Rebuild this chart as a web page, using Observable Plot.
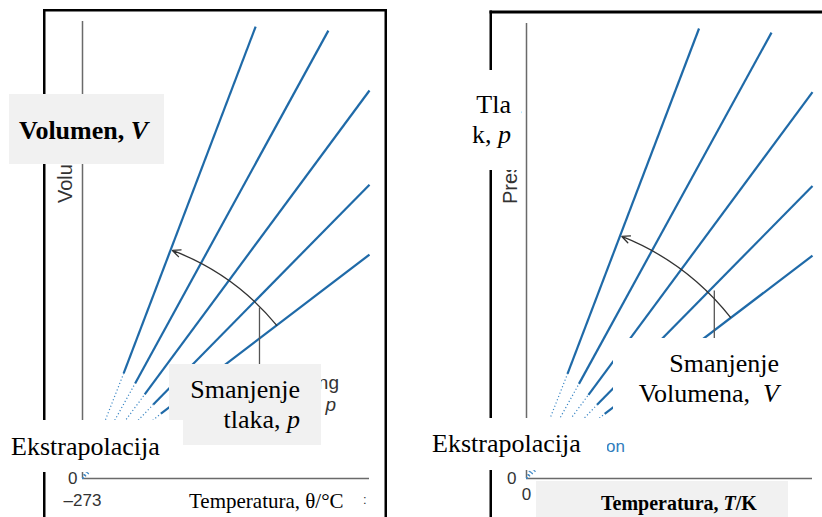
<!DOCTYPE html>
<html>
<head>
<meta charset="utf-8">
<script src="https://cdn.jsdelivr.net/npm/d3@7"></script>
<script src="https://cdn.jsdelivr.net/npm/@observablehq/plot@0.6"></script>
<style>
  html, body { margin: 0; padding: 0; background: #fff; }
  #root { position: relative; width: 822px; height: 517px; overflow: hidden; background: #fff; }
  #left, #right { position: absolute; top: 0; width: 411px; height: 517px; }
  #left { left: 0; }
  #right { left: 411px; }
  #overlay { position: absolute; left: 0; top: 0; }
</style>
</head>
<body>
<div id="root">
  <div id="left"></div>
  <div id="right"></div>
  <svg id="overlay" width="822" height="517">
    <!-- panel frames -->
    <g fill="#000">
      <rect x="43" y="9" width="2.5" height="508"></rect>
      <rect x="43" y="9" width="344" height="2.5"></rect>
      <rect x="384.5" y="9" width="2.5" height="508"></rect>
      <rect x="489.5" y="10.5" width="2.5" height="507"></rect>
      <rect x="489.5" y="10.5" width="333" height="3"></rect>
    </g>
    <!-- remnants of the original labels, partly covered -->
    <g font-family="'Liberation Sans', Arial, sans-serif" font-size="19" fill="#333">
      <text transform="translate(72,203) rotate(-90)" font-size="20">Volume, <tspan font-style="italic">V</tspan></text>
      <text transform="translate(517,204) rotate(-90)" font-size="20">Pressure, <tspan font-style="italic">p</tspan></text>
      <text x="339" y="389" text-anchor="end">Decreasing</text>
      <text x="336" y="411" text-anchor="end">pressure, <tspan font-style="italic">p</tspan></text>
      <text x="363" y="504" font-size="13">:</text>
      <text x="625" y="452" text-anchor="end" font-size="17" fill="#2f7dbd">Extrapolation</text>
    </g>
    <!-- translated label boxes -->
    <g font-family="'Liberation Serif', 'Times New Roman', serif" fill="#000">
      <rect x="9" y="94" width="155" height="70" fill="#f1f1f1"></rect>
      <text x="19" y="139" font-size="26" font-weight="bold">Volumen, <tspan font-style="italic">V</tspan></text>

      <rect x="169" y="364" width="152" height="81" fill="#f1f1f1"></rect>
      <text x="300" y="398" font-size="26" text-anchor="end">Smanjenje</text>
      <text x="300" y="428" font-size="26" text-anchor="end">tlaka, <tspan font-style="italic">p</tspan></text>

      <rect x="0" y="420" width="183" height="52" fill="#fff"></rect>
      <text x="11" y="455" font-size="26">Ekstrapolacija</text>

      <rect x="180" y="486" width="183" height="31" fill="#fff"></rect>
      <text x="189" y="508" font-size="21">Temperatura, θ/°C</text>

      <rect x="455" y="70" width="66" height="100" fill="#fff"></rect>
      <text x="511" y="113" font-size="26" text-anchor="end">Tla</text>
      <text x="511" y="143" font-size="26" text-anchor="end">k, <tspan font-style="italic">p</tspan></text>

      <rect x="613" y="338" width="209" height="80" fill="#fff"></rect>
      <text x="779" y="372" font-size="26" text-anchor="end">Smanjenje</text>
      <text x="779" y="402" font-size="26" text-anchor="end" xml:space="preserve">Volumena,  <tspan font-style="italic">V</tspan></text>

      <rect x="415" y="418" width="192" height="52" fill="#fff"></rect>
      <text x="432" y="452" font-size="26">Ekstrapolacija</text>

      <rect x="536" y="481" width="252" height="36" fill="#f1f1f1"></rect>
      <text x="601" y="510" font-size="20" font-weight="bold">Temperatura, <tspan font-style="italic">T</tspan>/K</text>
    </g>
  </svg>
</div>
<script>
// ---- data ----
// five straight lines through absolute zero (one per pressure / volume)
const seriesIds = ["1", "2", "3", "4", "5"];
const endTempK = [181, 257, 300, 300, 300];          // upper end of each line, kelvin
const endValue = [9.89, 9.80, 8.49, 6.43, 4.90];     // volume (left) / pressure (right) at upper end
const solidFromTempK = [43, 55, 65, 74, 82];         // where the measured (solid) part begins
const solidFromValue = [2.30, 2.08, 1.84, 1.62, 1.42];
const absoluteZeroK = 0;
const celsiusOffset = 273;

// curved arrow and its leader line
const arrowLeft = {fromT: 203, fromV: 3.35, toT: 94, toV: 4.99, leaderT: 185, leaderTop: 3.74, leaderBottom: 2.3};
const arrowRight = {fromT: 214, fromV: 3.54, toT: 100, toV: 5.32, leaderT: 197, leaderTop: 4.13, leaderBottom: 2.8};

// tick labels
const leftXTicks = [-273];
const leftXTickLabels = ["\u2013273"];
const rightXTicks = [0];
const rightXTickLabels = ["0"];
const yTicks = [0];
const yTickLabels = ["0"];

const blue = "#1f6aa8";
const dotBlue = "#3b86c4";

const rows = seriesIds.map((id, i) => ({
  id,
  endT: endTempK[i], endV: endValue[i],
  startT: solidFromTempK[i], startV: solidFromValue[i]
}));

function panel({toX, domainX, margins, xTicks, xTickLabels, xPad, yPad, arrow}) {
  return Plot.plot({
    width: 411,
    height: 517,
    ...margins,
    x: {domain: domainX},
    y: {domain: [0, 10]},
    style: {fontFamily: "'Liberation Sans', Arial, sans-serif", fontSize: "17px", background: "transparent", color: "#333"},
    marks: [
      Plot.ruleX([toX(absoluteZeroK)], {stroke: "#6a6a6a", strokeWidth: 1.5}),
      Plot.ruleY([0], {stroke: "#6a6a6a", strokeWidth: 1.5}),
      Plot.link(rows, {
        x1: () => toX(absoluteZeroK), y1: () => 0,
        x2: d => toX(d.startT), y2: "startV",
        stroke: dotBlue, strokeWidth: 1.2, strokeDasharray: "1.2,2.3"
      }),
      Plot.link(rows, {
        x1: d => toX(d.startT), y1: "startV",
        x2: d => toX(d.endT), y2: "endV",
        stroke: blue, strokeWidth: 2.2
      }),
      Plot.link([arrow], {
        x1: d => toX(d.leaderT), y1: "leaderTop",
        x2: d => toX(d.leaderT), y2: "leaderBottom",
        stroke: "#555", strokeWidth: 1.3
      }),
      Plot.arrow([arrow], {
        x1: d => toX(d.fromT), y1: "fromV",
        x2: d => toX(d.toT), y2: "toV",
        bend: -15, stroke: "#333", strokeWidth: 1.3, headLength: 10, headAngle: 50
      }),
      Plot.axisY({ticks: yTicks, tickSize: 0, tickPadding: yPad, label: null,
        tickFormat: (d, i) => yTickLabels[i]}),
      Plot.axisX({ticks: xTicks, tickSize: 0, tickPadding: xPad, label: null,
        tickFormat: (d, i) => xTickLabels[i]})
    ]
  });
}

document.getElementById("left").append(panel({
  toX: k => k - celsiusOffset,
  domainX: [-273, 27],
  margins: {marginLeft: 82, marginRight: 42, marginTop: 21, marginBottom: 39},
  xTicks: leftXTicks, xTickLabels: leftXTickLabels, xPad: 15, yPad: 5,
  arrow: arrowLeft
}));

document.getElementById("right").append(panel({
  toX: k => k,
  domainX: [0, 300],
  margins: {marginLeft: 115, marginRight: 10, marginTop: 23, marginBottom: 39},
  xTicks: rightXTicks, xTickLabels: rightXTickLabels, xPad: 9, yPad: 10,
  arrow: arrowRight
}));
</script>
</body>
</html>
